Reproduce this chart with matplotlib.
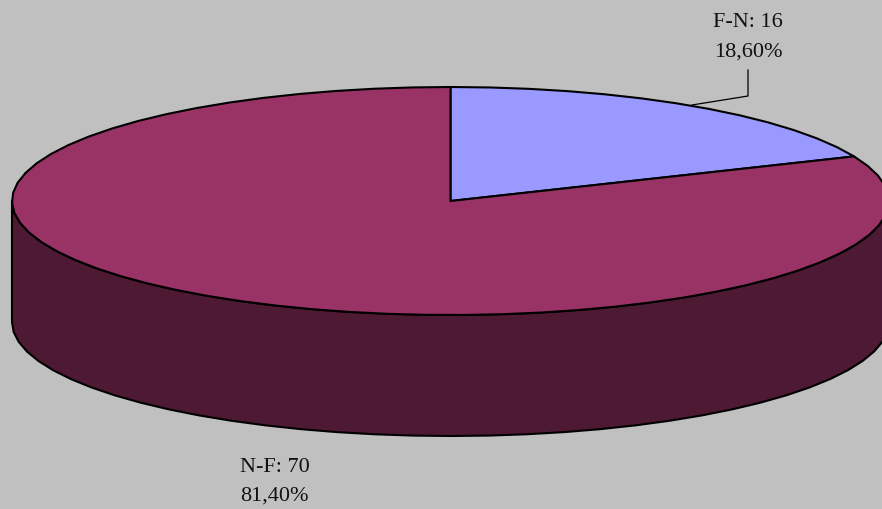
"""3D-look pie chart of F-N / N-F counts"""
import numpy as np
from matplotlib import pyplot as plt
from matplotlib.patches import Polygon

# data
labels = ["F-N", "N-F"]
counts = [16, 70]
shares = ["18,60%", "81,40%"]
top_colors = ["#9999FF", "#993366"]
side_color = "#4D1933"

W, H = 882, 509
cx, cy = 450.5, 201
rx, ry = 438.5, 114
depth = 121

fig = plt.figure(figsize=(W / 100, H / 100), dpi=100, facecolor="#C0C0C0")
ax = fig.add_axes([0, 0, 1, 1])
ax.set_xlim(0, W)
ax.set_ylim(H, 0)
ax.axis("off")


def rim(a0, a1, step=5.0):
    # angles clockwise from 12 o'clock; coarse steps keep the slightly faceted outline
    n = max(int(abs(a1 - a0) / step), 2) + 1
    t = np.radians(np.linspace(a0, a1, n))
    return np.column_stack([cx + rx * np.sin(t), cy - ry * np.cos(t)])


# side wall, only the front half of the rim shows
front = rim(90, 270)
wall = np.vstack([front, front[::-1] + [0, depth]])
ax.add_patch(Polygon(wall, closed=True, fc=side_color, ec="black", lw=1.5, joinstyle="round"))

# slices, going clockwise from the top
total = sum(counts)
start = 0
for count, color in zip(counts, top_colors):
    end = start + 360 * count / total
    edge = rim(start, end)
    ax.add_patch(Polygon(np.vstack([[cx, cy], edge]), closed=True, fc=color, ec="black", lw=1.5, joinstyle="round"))
    start = end

# leader line for the F-N label
ax.plot([692, 748, 748], [105, 96, 70], color="black", lw=0.9)

serif = "Liberation Serif"
ax.text(748, 22, f"{labels[0]}: {counts[0]}", ha="center", va="center", family=serif, fontsize=16, color="#111111")
ax.text(748, 52, shares[0], ha="center", va="center", family=serif, fontsize=16, color="#111111")
ax.text(274.5, 467, f"{labels[1]}: {counts[1]}", ha="center", va="center", family=serif, fontsize=16, color="#111111")
ax.text(274.5, 496, shares[1], ha="center", va="center", family=serif, fontsize=16, color="#111111")

fig.savefig("out.png", dpi=100, facecolor=fig.get_facecolor())
